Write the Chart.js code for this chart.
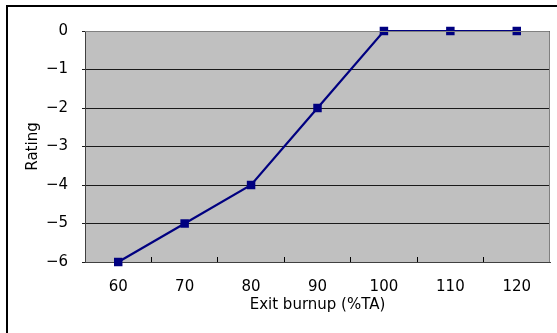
<!DOCTYPE html>
<html>
<head>
<meta charset="utf-8">
<script src="https://cdn.jsdelivr.net/npm/chart.js@4.4.1/dist/chart.umd.min.js"></script>
<style>
  html, body { margin: 0; padding: 0; background: #fff; }
  #wrap { width: 557px; height: 333px; }
</style>
</head>
<body>
<div id="wrap"><canvas id="myChart" width="557" height="333"></canvas></div>
<script>
// data
const burnup = ["60", "70", "80", "90", "100", "110", "120"];
const rating = [-6, -5, -4, -2, 0, 0, 0];
const yMin = -6;
const yMax = 0;

const fontFamily = "'DejaVu Sans', 'Liberation Sans', sans-serif";

// grey plot area + outer frame
const plotBg = {
  id: "plotBg",
  beforeDraw(chart) {
    const { ctx, chartArea } = chart;
    ctx.save();
    ctx.fillStyle = "#c0c0c0";
    ctx.fillRect(chartArea.left, chartArea.top, chartArea.right - chartArea.left, chartArea.bottom - chartArea.top);
    ctx.restore();
  },
  afterDraw(chart) {
    const { ctx, chartArea } = chart;
    ctx.save();
    // right and top border of the plot
    ctx.strokeStyle = "#808080";
    ctx.lineWidth = 1;
    ctx.beginPath();
    ctx.moveTo(chartArea.left, chartArea.top + 0.5);
    ctx.lineTo(chartArea.right - 0.5, chartArea.top + 0.5);
    ctx.lineTo(chartArea.right - 0.5, chartArea.bottom);
    ctx.stroke();
    // outer frame
    ctx.strokeStyle = "#000";
    ctx.lineWidth = 2;
    ctx.strokeRect(7, 6, 600, 400);
    ctx.restore();
  },
};

const ctx = document.querySelector("#myChart");
const chart = new Chart(ctx, {
  type: "line",
  data: {
    labels: burnup,
    datasets: [
      {
        data: rating,
        borderColor: "#000080",
        backgroundColor: "#000080",
        borderWidth: 2.2,
        pointStyle: "rect",
        pointRadius: 6,
        pointBorderWidth: 0,
        tension: 0,
        clip: false,
      },
    ],
  },
  options: {
    responsive: false,
    animation: false,
    layout: {
      padding: { top: 31, right: 7, left: 0, bottom: 0 },
    },
    plugins: {
      legend: { display: false },
      tooltip: { enabled: false },
    },
    scales: {
      x: {
        offset: true,
        afterFit(scale) {
          scale.height = 71;
        },
        grid: {
          drawOnChartArea: false,
          drawTicks: true,
          tickLength: -5,
          offset: true,
          color: "#000",
        },
        border: { color: "#404040", width: 1 },
        ticks: {
          color: "#000",
          padding: 21,
          font: { family: fontFamily, size: 15 },
        },
        title: {
          display: true,
          text: "Exit burnup (%TA)",
          color: "#000",
          padding: { top: 0, bottom: 19 },
          font: { family: fontFamily, size: 15 },
        },
      },
      y: {
        min: yMin,
        max: yMax,
        afterFit(scale) {
          scale.width = 85;
        },
        grid: {
          color: "#1a1a1a",
          tickLength: 3,
        },
        border: { color: "#404040", width: 1 },
        ticks: {
          stepSize: 1,
          color: "#000",
          padding: 14,
          font: { family: fontFamily, size: 15 },
          callback: (value) => String(value).replace("-", "\u2212"),
        },
        title: {
          display: true,
          text: "Rating",
          color: "#000",
          padding: { top: 24, bottom: 0 },
          font: { family: fontFamily, size: 15 },
        },
      },
    },
  },
  plugins: [plotBg],
});
</script>
</body>
</html>
